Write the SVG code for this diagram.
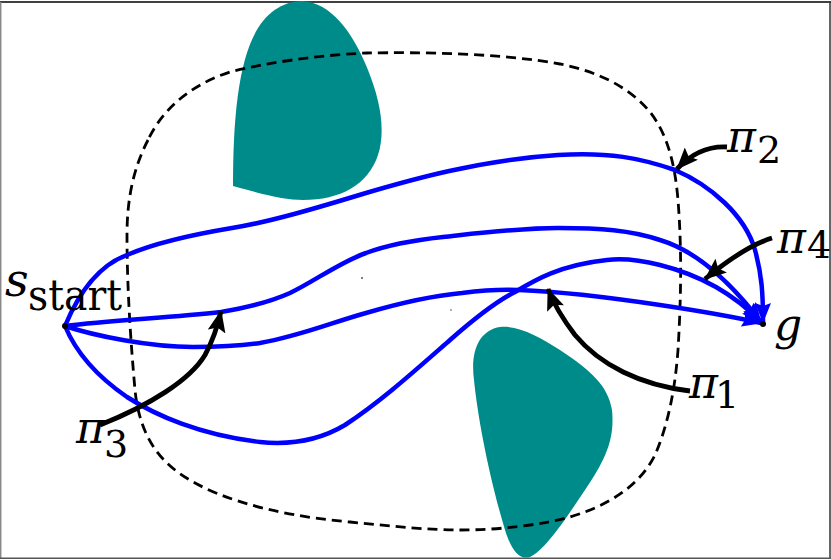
<svg xmlns="http://www.w3.org/2000/svg" width="831" height="560" viewBox="0 0 831 560">
<style>
.obs{fill:#008B8B;stroke:none}
.path{fill:none;stroke:#0000FF;stroke-width:4.5;marker-end:url(#bh)}
.ptr{fill:none;stroke:#000;stroke-width:4.8;marker-end:url(#kh)}
.dash{fill:none;stroke:#000;stroke-width:2.8;stroke-dasharray:10 6}
</style>
<defs>
<marker id="bh" markerUnits="userSpaceOnUse" viewBox="0 0 20 16" refX="19" refY="8" markerWidth="20" markerHeight="16" orient="auto">
<path d="M0,0 L20,8 L0,16 L3,8 Z" fill="#0000FF"/>
</marker>
<marker id="kh" markerUnits="userSpaceOnUse" viewBox="0 0 22 18" refX="21" refY="9" markerWidth="22" markerHeight="18" orient="auto">
<path d="M0,0 L22,9 L0,18 L4,9 Z" fill="#000"/>
</marker>
</defs>
<rect x="0" y="0" width="831" height="560" fill="#fff"/>
<g id="frame">
<line x1="0" y1="2" x2="831" y2="2" stroke="#000" stroke-width="1.5"/>
<line x1="0.7" y1="2" x2="0.7" y2="559" stroke="#888" stroke-width="1.5"/>
<line x1="830" y1="2" x2="830" y2="559" stroke="#333" stroke-width="1.5"/>
<line x1="0" y1="558.3" x2="831" y2="558.3" stroke="#555" stroke-width="1.5"/>
</g>
<g id="obstacle-top">
<path class="obs" d="M233,186 C233,120 238,60 258,28 C272,6 290,1 303,1 C330,3 352,30 368,70 C380,100 386,130 378,155 C368,185 340,200 303,200 C285,200 265,195 233,186 Z"/>
</g>
<g id="obstacle-bottom">
<path class="obs" d="M500,327 C480,330 470,350 474,380 C478,420 490,480 505,530 C512,552 520,560 530,557 C545,550 565,520 585,490 C605,460 615,440 612,410 C608,385 590,370 560,350 C540,337 518,325 500,327 Z"/>
</g>
<g id="region">
<path class="dash" d="M148,140 C135,165 127,195 127,235 C127,290 131,345 135,390 C138,420 148,445 167,463 C200,495 270,515 350,522 C400,527 430,530 460,530 C500,530 540,525 570,517 C610,505 640,485 655,455 C668,425 675,390 678,350 C681,300 682,250 678,200 C675,165 668,135 650,112 C630,88 600,72 560,64 C500,53 420,52 367,53 C320,55 270,62 230,72 C190,85 162,110 148,140 Z"/>
</g>
<g id="connectors">
<path id="pi2" class="path" d="M65,326 C80,290 100,265 127,255 C150,245 190,235 232,228 C270,222 320,207 366,193 C410,180 480,160 558,155 C610,152 640,158 675,170 C710,185 745,215 755,250 C762,275 763,295 763,322"/>
<path id="pi4" class="path" d="M65,326 C110,320 170,318 221,312 C245,308 270,302 290,293 C315,281 340,262 366,253 C390,244 415,240 443,237 C480,233 520,228 558,228 C600,228 630,230 660,240 C700,252 735,288 761,322"/>
<path id="pi1" class="path" d="M65,326 C95,336 150,347 193,347 C220,347 240,346 260,343 C300,336 330,323 366,313 C400,303 430,296 462,293 C485,290 500,289 519,290 C570,292 620,299 660,305 C700,311 730,316 761,323"/>
<path id="pi3" class="path" d="M65,326 C75,350 95,375 127,397 C155,415 200,435 260,442 C290,445 320,440 345,425 C380,402 410,375 450,340 C475,318 495,302 515,292 C535,280 560,265 607,260 C625,258 640,260 660,265 C700,275 735,295 761,322"/>
<path class="ptr" d="M727,147 C708,146 692,153 677,169"/>
<path class="ptr" d="M772,238 C750,245 728,260 705,279"/>
<path class="ptr" d="M690,391 C640,385 600,365 575,335 C562,318 553,302 548,289"/>
<path class="ptr" d="M100,425 C150,405 190,380 205,355 C213,340 218,325 221,311"/>
</g>
<g id="start">
<circle cx="65" cy="326" r="3" fill="#000"/>
<text x="5" y="296" font-family="DejaVu Serif, serif" font-style="italic" font-size="46" fill="#000">s</text>
<text x="28" y="310" font-family="DejaVu Serif, serif" font-size="42" fill="#000" textLength="94" lengthAdjust="spacingAndGlyphs">start</text>
</g>
<g id="goal">
<circle cx="763" cy="324" r="3" fill="#000"/>
<text x="774" y="340" font-family="DejaVu Serif, serif" font-style="italic" font-size="44" fill="#000">g</text>
</g>
<g id="labels" font-family="DejaVu Serif, serif" fill="#000">
<text x="727" y="152" font-style="italic" font-size="44">π</text><text x="757" y="163" font-size="38">2</text>
<text x="777" y="253" font-style="italic" font-size="44">π</text><text x="807" y="258" font-size="38">4</text>
<text x="689" y="398" font-style="italic" font-size="44">π</text><text x="715" y="408" font-size="38">1</text>
<text x="76" y="443" font-style="italic" font-size="44">π</text><text x="104" y="457" font-size="38">3</text>
</g>
<circle cx="362" cy="278" r="0.9" fill="#444"/>
<circle cx="451" cy="310" r="0.9" fill="#888"/>
</svg>
